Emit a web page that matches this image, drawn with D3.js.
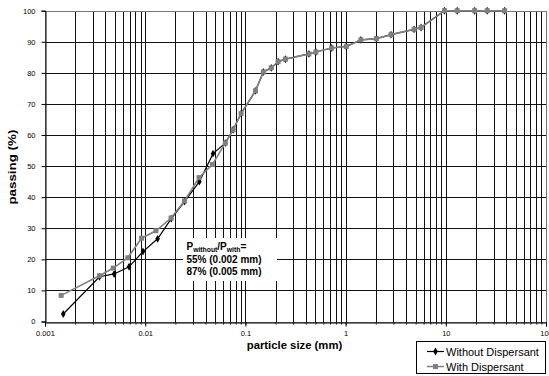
<!DOCTYPE html>
<html><head><meta charset="utf-8">
<script src="https://cdn.jsdelivr.net/npm/d3@7"></script>
<style>
html,body{margin:0;padding:0;background:#fff;}
svg{display:block;font-family:"Liberation Sans",Arial,Helvetica,sans-serif;}
</style></head>
<body>
<svg id="chart" width="549" height="376"></svg>
<script>
// particle size (mm)
const withoutSize = [0.00152,0.0035,0.0049,0.0069,0.0095,0.0133,0.0182,0.0247,0.0347,0.0475,0.063,0.0754,0.0906,0.126,0.151,0.181,0.212,0.251,0.43,0.505,0.725,1.016,1.42,2.03,2.84,4.82,5.66,9.7,13.0,19.4,25.9,38.6];
const withoutPass = [2.4,14.4,15.3,17.6,22.5,26.6,33.1,38.6,45.0,54.0,57.4,61.7,66.9,74.2,80.3,81.6,83.6,84.4,86.1,86.7,88.0,88.5,90.6,91.0,92.3,94.0,94.6,100,100,100,100,100];
const withSize = [0.00145,0.0035,0.0048,0.0067,0.0092,0.0128,0.0181,0.0247,0.0345,0.0468,0.063,0.0754,0.0906,0.126,0.151,0.181,0.212,0.251,0.43,0.505,0.725,1.016,1.42,2.03,2.84,4.82,5.66,9.7,13.0,19.4,25.9,38.6];
const withPass = [8.4,14.7,17.2,20.5,26.8,29.2,33.3,38.8,46.3,50.5,57.4,61.7,66.9,74.2,80.3,81.6,83.6,84.4,86.1,86.7,88.0,88.5,90.6,91.0,92.3,94.0,94.6,100,100,100,100,100];
const xTickLabels = ["0.001","0.01","0.1","1","10","100"];
const yTickLabels = [0,10,20,30,40,50,60,70,80,90,100];
const seriesNames = ["Without Dispersant","With Dispersant"];
const noteLines = ["55% (0.002 mm)","87% (0.005 mm)"];

const svg = d3.select("#chart");
const x = d3.scaleLog().domain([0.001,100]).range([45,546]);
const y = d3.scaleLinear().domain([0,100]).range([321.5,10.7]);
const px = v => Math.round(v) + 0.5;

// grid
const minorVals = [];
for (let e=-3;e<2;e++) for (let m=1;m<10;m++) minorVals.push(m*Math.pow(10,e));
minorVals.push(100);
const g = svg.append("g").attr("shape-rendering","crispEdges");
g.selectAll("line.vg").data(minorVals).join("line")
  .attr("x1",d=>px(x(d))).attr("x2",d=>px(x(d))).attr("y1",px(y(0))).attr("y2",px(y(100)))
  .attr("stroke","#111").attr("stroke-width",1);
g.selectAll("line.hg").data(yTickLabels).join("line")
  .attr("x1",px(x(0.001))).attr("x2",px(x(100))).attr("y1",d=>px(y(d))).attr("y2",d=>px(y(d)))
  .attr("stroke","#111").attr("stroke-width",1);
g.append("rect").attr("x",px(x(0.001))).attr("y",px(y(100))).attr("width",px(x(100))-px(x(0.001))).attr("height",px(y(0))-px(y(100)))
  .attr("fill","none").attr("stroke","#777").attr("stroke-width",1);

// axes
const xAxis = d3.axisBottom(x).tickValues(xTickLabels.map(Number)).tickFormat((d,i)=>xTickLabels[i]).tickSize(4).tickPadding(4);
const xa = svg.append("g").attr("transform",`translate(0,${px(y(0))})`).call(xAxis);
svg.append("g").attr("transform",`translate(0,${px(y(0))})`)
  .call(d3.axisBottom(x).tickValues(minorVals).tickFormat("").tickSize(2))
  .call(s=>s.select(".domain").remove());
const ya = svg.append("g").attr("transform",`translate(${px(x(0.001))},0)`)
  .call(d3.axisLeft(y).tickValues(yTickLabels).tickSize(4).tickPadding(6));
[xa,ya].forEach(a=>{a.selectAll("text").attr("font-size",7.5).attr("fill","#000").attr("font-family","Liberation Sans,Arial,sans-serif");
  a.select(".domain").attr("stroke","#000");});

// axis titles
svg.append("text").attr("x",294.5).attr("y",349).attr("text-anchor","middle")
  .attr("font-size",11.3).attr("font-weight","bold").text("particle size (mm)");
svg.append("text").attr("transform",`translate(16,${(y(0)+y(100))/2 + 1}) rotate(-90)`).attr("text-anchor","middle")
  .attr("font-size",11.5).attr("font-weight","bold").attr("textLength",75).attr("lengthAdjust","spacingAndGlyphs").text("passing (%)");

// series
const line = d3.line().x(d=>x(d[0])).y(d=>y(d[1]));
const dWithout = withoutSize.map((s,i)=>[s,withoutPass[i]]);
const dWith = withSize.map((s,i)=>[s,withPass[i]]);
svg.append("path").datum(dWithout).attr("d",line).attr("fill","none").attr("stroke","#000").attr("stroke-width",1.2);
svg.append("g").selectAll("path").data(dWithout).join("path")
  .attr("d",d3.symbol().type(d3.symbolDiamond).size(18))
  .attr("transform",d=>`translate(${x(d[0])},${y(d[1])})`).attr("fill","#000");
svg.append("path").datum(dWith).attr("d",line).attr("fill","none").attr("stroke","#808080").attr("stroke-width",1.6);
svg.append("g").selectAll("rect").data(dWith).join("rect")
  .attr("x",d=>x(d[0])-2.5).attr("y",d=>y(d[1])-2.5).attr("width",5).attr("height",5).attr("fill","#808080");

// annotation
svg.append("rect").attr("x",183).attr("y",238).attr("width",94).attr("height",43).attr("fill","#fff");
const t0 = svg.append("text").attr("x",186.5).attr("y",250).attr("font-size",10).attr("font-weight","bold");
t0.append("tspan").text("P");
t0.append("tspan").attr("font-size",6.8).attr("dy",2).text("without");
t0.append("tspan").attr("dy",-2).text("/P");
t0.append("tspan").attr("font-size",6.8).attr("dy",2).text("with");
t0.append("tspan").attr("dy",-2).text("=");
svg.selectAll("text.note").data(noteLines).join("text").attr("class","note")
  .attr("x",186.5).attr("y",(d,i)=>262.7+i*12.3).attr("font-size",10).attr("font-weight","bold").text(d=>d);

// legend
const lg = svg.append("g");
lg.append("rect").attr("x",416.5).attr("y",341.5).attr("width",128.5).attr("height",32).attr("fill","#fff").attr("stroke","#000").attr("stroke-width",1).attr("shape-rendering","crispEdges");
seriesNames.forEach((n,i)=>{
  const yy = 351.5 + i*15;
  const col = i===0?"#000":"#808080";
  lg.append("line").attr("x1",427).attr("x2",444).attr("y1",yy).attr("y2",yy).attr("stroke",col).attr("stroke-width",i===0?1.2:1.5);
  if(i===0) lg.append("path").attr("d",d3.symbol().type(d3.symbolDiamond).size(18)).attr("transform",`translate(435.5,${yy})`).attr("fill","#000");
  else lg.append("rect").attr("x",433).attr("y",yy-2.5).attr("width",5).attr("height",5).attr("fill","#808080");
  lg.append("text").attr("x",446).attr("y",yy+4).attr("font-size",11).text(n);
});
</script>
</body></html>
